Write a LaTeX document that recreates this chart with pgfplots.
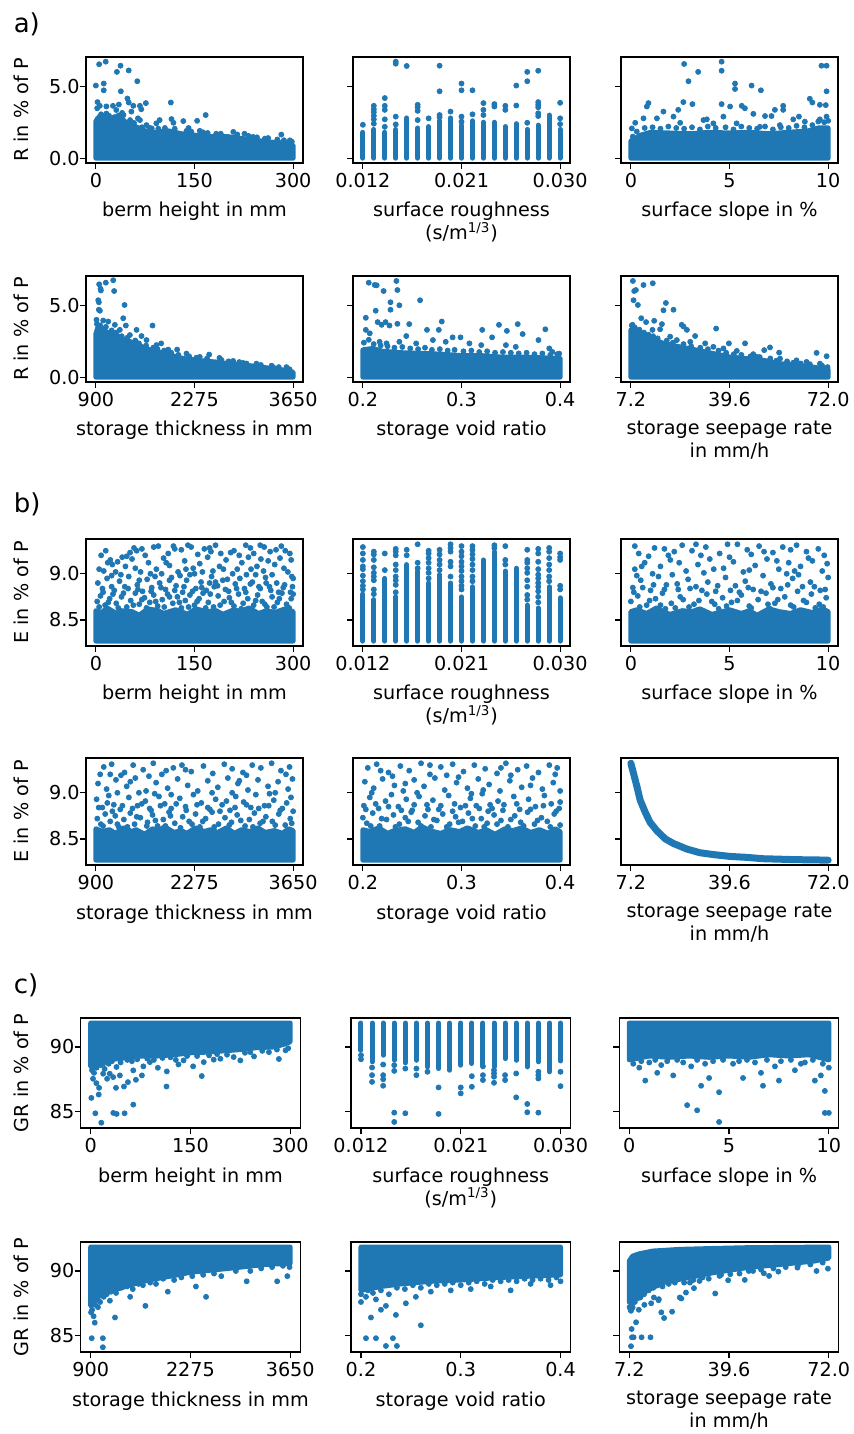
\documentclass[border=0pt]{standalone}
\usepackage{fontspec}
\setmainfont{DejaVu Sans}
\usepackage{pgfplots}
\pgfplotsset{compat=1.18}
\definecolor{tabblue}{HTML}{1F77B4}
\pgfplotsset{
  panel/.style={scale only axis, anchor=north west, width=108.5pt, height=53pt,
    tick align=outside, tick pos=left, major tick length=3pt,
    axis line style={line width=0.6pt}, tick style={line width=0.6pt, black},
    xticklabel style={inner sep=0pt, anchor=north, yshift=-2pt},
    yticklabel style={inner sep=0pt, anchor=east},
    xlabel style={at={(axis description cs:0.5,0)}, anchor=north, yshift=-19.5pt, inner sep=0pt, align=center},
    ylabel style={at={(axis description cs:-0.30,0.5)}, anchor=center, inner sep=0pt},
    scaled x ticks=false, scaled y ticks=false,
    unbounded coords=jump, clip=true},
  cpanel/.style={panel, width=109.75pt, height=55pt, ylabel style={at={(axis description cs:-0.272,0.5)}}},
  bpanel/.style={panel, height=53.5pt},
  dots/.style={only marks, mark=*, mark size=1.25pt, color=tabblue},
  dense/.style={fill=tabblue, draw=tabblue, line width=2.5pt, line join=round},
  cols/.style={draw=tabblue, line width=2.5pt, line cap=round},
  Rax/.style={ymin=-0.335, ymax=7.035, ytick={0,5}, yticklabels={0.0,5.0}},
  Eax/.style={ymin=8.217, ymax=9.377, ytick={8.5,9.0}, yticklabels={8.5,9.0}},
  Gax/.style={ymin=83.73, ymax=92.24, ytick={85,90}, yticklabels={85,90}},
  noy/.style={yticklabels={}},
  berm/.style={xmin=-15, xmax=315, xtick={0,150,300}, xticklabels={0,150,300}, xlabel={berm height in mm}},
  rough/.style={xmin=0.0111, xmax=0.0309, xtick={0.012,0.021,0.030}, xticklabels={0.012,0.021,0.030}, xlabel={surface roughness\\(s/m\textsuperscript{1/3})}},
  slope/.style={xmin=-0.5, xmax=10.5, xtick={0,5,10}, xticklabels={0,5,10}, xlabel={surface slope in \%}},
  thick/.style={xmin=762.5, xmax=3787.5, xtick={900,2275,3650}, xticklabels={900,2275,3650}, xlabel={storage thickness in mm}},
  void/.style={xmin=0.19, xmax=0.41, xtick={0.2,0.3,0.4}, xticklabels={0.2,0.3,0.4}, xlabel={storage void ratio}},
  seep/.style={xmin=3.96, xmax=75.24, xtick={7.2,39.6,72}, xticklabels={7.2,39.6,72.0}, xlabel={storage seepage rate\\in mm/h}},
}
\begin{document}
\begin{tikzpicture}[font=\fontsize{9.6}{11.5}\selectfont]
\useasboundingbox (0,0) rectangle (426.5pt,-717pt);
\node[anchor=base west, inner sep=0pt, font=\fontsize{13}{15}\selectfont] at (6.7pt,-16.3pt) {a)};
\node[anchor=base west, inner sep=0pt, font=\fontsize{13}{15}\selectfont] at (6.7pt,-256.3pt) {b)};
\node[anchor=base west, inner sep=0pt, font=\fontsize{13}{15}\selectfont] at (6.7pt,-496.7pt) {c)};

% ================= a) R =================
\begin{axis}[panel, Rax, berm, at={(43pt,-28.5pt)}, ylabel={R in \% of P}]
\addplot[dense] coordinates {(0,0) (0,2.6) (10,2.9) (25,2.7) (35,3.0) (45,2.5) (60,2.2) (75,1.9) (90,1.8) (110,1.9) (130,1.7) (150,1.6) (175,1.5) (200,1.5) (225,1.35) (250,1.2) (270,1.1) (290,1.05) (300,0.9) (300,0)} --cycle;
\addplot[dots] coordinates {(0,5.05) (5,6.53) (15,6.71) (12,5.19) (12,4.72) (32,6.0) (37.5,6.43) (38,4.65) (50,6.1) (63,5.35) (48,4.15) (2.5,3.9) (2,3.47) (6,3.64) (16,3.6) (26,3.64) (35,3.73) (50,3.87) (57,3.64) (67,3.64) (76,3.83) (69,3.4) (114,3.87) (115,2.72) (118,2.46) (133,2.58) (154,2.6) (167,3.0) (141,2.1) (158,1.9) (183,1.7) (209,1.83) (226,1.7) (239,1.48) (257,1.36) (282,1.64) (295,1.24) (54,3.24) (42,3.0) (67,2.65) (77,2.3) (92,2.42) (97,2.65) (6,2.9) (16,3.1) (31,3.35) (64,2.77) (85,2.07) (102,1.83)};
\addplot[dots] coordinates {(3,2.75) (8,3.05) (20,2.95) (28,2.85) (40,3.15) (52,2.65) (58,2.45) (70,2.15) (82,2.1) (95,2.05) (105,2.1) (120,2.05) (138,1.9) (145,1.85) (163,1.8) (170,1.75) (190,1.7) (215,1.65) (232,1.55) (245,1.45) (262,1.4) (276,1.3) (286,1.25) (298,1.15)};
\end{axis}

\begin{axis}[panel, Rax, noy, rough, at={(176.5pt,-28.5pt)}]
\addplot[cols, ycomb] coordinates {(0.012,1.8) (0.013,2.0) (0.014,1.8) (0.015,2.0) (0.016,2.8) (0.017,2.1) (0.018,2.2) (0.019,2.6) (0.020,2.8) (0.021,2.3) (0.022,2.6) (0.023,2.5) (0.024,2.5) (0.025,2.2) (0.026,2.4) (0.027,2.0) (0.028,2.3) (0.029,3.0) (0.030,2.0)};
\addplot[dots] coordinates {(0.012,2.32) (0.013,2.4) (0.013,2.7) (0.013,2.95) (0.013,3.2) (0.013,3.4) (0.013,3.64) (0.014,4.18) (0.014,3.64) (0.014,3.36) (0.014,2.7) (0.014,2.18) (0.015,6.71) (0.015,6.57) (0.015,2.89) (0.015,2.35) (0.016,6.41) (0.017,3.71) (0.017,3.54) (0.017,3.29) (0.017,2.65) (0.018,2.77) (0.019,6.43) (0.019,4.65) (0.019,3.0) (0.019,2.84) (0.020,3.24) (0.021,5.19) (0.021,4.72) (0.021,2.89) (0.021,2.54) (0.022,4.72) (0.022,3.05) (0.023,3.83) (0.023,3.36) (0.023,3.0) (0.024,3.76) (0.024,3.59) (0.025,3.64) (0.025,3.36) (0.026,5.05) (0.026,3.66) (0.027,6.0) (0.027,5.35) (0.027,2.46) (0.028,6.08) (0.028,3.9) (0.028,3.71) (0.028,3.54) (0.028,3.12) (0.028,2.93) (0.030,3.85) (0.030,2.77) (0.030,2.37)};
\end{axis}

\begin{axis}[panel, Rax, noy, slope, at={(310.5pt,-28.5pt)}]
\addplot[dense] coordinates {(0,0) (0,1.2) (0.5,1.6) (1,1.8) (2,1.75) (3,1.7) (4,1.8) (5,1.75) (6,1.8) (7,1.7) (8,1.8) (9,1.9) (9.5,2.1) (10,2.1) (10,0)} --cycle;
\addplot[dots] coordinates {(2.7,6.55) (2.92,5.35) (3.41,6.0) (4.6,6.71) (4.6,6.08) (4.6,3.76) (5.28,5.19) (5.28,4.81) (6.12,5.05) (6.59,4.72) (9.66,6.43) (9.92,6.43) (9.92,4.65) (9.07,4.13) (9.2,3.87) (9.58,3.71) (9.88,3.69) (9.92,2.89) (2.66,3.9) (3.12,3.76) (0.89,3.83) (0.81,3.59) (0.64,2.77) (0.22,2.46) (0.05,2.07) (1.65,3.24) (2.4,3.36) (2.16,2.89) (3.68,2.65) (3.85,2.7) (4.69,2.89) (5.03,3.59) (5.62,3.64) (5.78,3.47) (6.21,3.08) (6.8,2.93) (7.13,2.93) (7.72,3.64) (7.72,3.36) (7.3,3.36) (8.52,2.89) (8.23,2.7) (9.58,2.7) (1.32,2.77) (2.5,2.46) (4.18,2.42) (5.36,2.42) (6.54,2.18) (7.55,2.3) (8.82,2.54)};
\addplot[dots] coordinates {(0.1,1.5) (0.3,1.85) (0.7,2.1) (1.1,2.15) (1.5,2.05) (1.9,2.2) (2.3,2.1) (2.7,2.05) (3.1,2.15) (3.5,2.0) (3.9,2.2) (4.3,2.1) (4.8,2.15) (5.2,2.0) (5.6,2.2) (6.0,2.1) (6.4,2.05) (6.8,2.2) (7.2,2.0) (7.6,2.15) (8.0,2.1) (8.4,2.25) (8.8,2.15) (9.2,2.3) (9.5,2.55) (9.8,2.5) (10,2.6)};
\end{axis}

\begin{axis}[panel, Rax, thick, at={(43pt,-138pt)}, ylabel={R in \% of P}]
\addplot[dense] coordinates {(900,0) (900,3.0) (930,3.5) (1000,3.3) (1100,3.0) (1200,2.9) (1300,2.6) (1420,2.4) (1550,2.1) (1652,1.9) (1800,1.7) (1885,1.6) (2117,1.3) (2349,1.15) (2581,1.05) (2814,0.9) (3046,0.8) (3278,0.65) (3511,0.5) (3650,0.35) (3650,0)} --cycle;
\addplot[dots] coordinates {(946,6.46) (965,6.15) (970,6.03) (1039,6.57) (1142,6.74) (1155,5.99) (933,5.35) (942,5.21) (942,4.69) (956,4.62) (1300,5.02) (1281,4.1) (1318,3.59) (1165,3.64) (1467,3.29) (1690,3.59) (1536,2.86) (1810,2.35) (2033,1.92) (2479,1.57) (2623,1.34) (2953,0.99) (3371,0.7) (909,3.99) (1002,3.94) (1072,3.87) (956,3.4) (1234,3.29) (1374,2.93) (1606,2.58) (1745,2.23) (1908,1.92) (2163,1.64) (2349,1.41) (2814,1.13) (3139,0.94) (3557,0.7)};
\addplot[dots] coordinates {(915,3.7) (960,3.6) (1040,3.5) (1120,3.25) (1180,3.1) (1260,2.85) (1340,2.75) (1450,2.55) (1500,2.35) (1600,2.2) (1700,2.05) (1760,1.95) (1850,1.85) (1950,1.7) (2050,1.55) (2200,1.45) (2300,1.35) (2450,1.3) (2650,1.2) (2750,1.1) (2900,1.05) (3000,0.95) (3200,0.85) (3350,0.8) (3450,0.7) (3600,0.55)};
\end{axis}

\begin{axis}[panel, Rax, noy, void, at={(176.5pt,-138pt)}]
\addplot[dense] coordinates {(0.2,0) (0.2,1.9) (0.21,2.0) (0.22,1.8) (0.24,1.7) (0.26,1.65) (0.28,1.6) (0.3,1.5) (0.32,1.5) (0.34,1.4) (0.36,1.4) (0.38,1.35) (0.4,1.3) (0.4,0)} --cycle;
\addplot[dots] coordinates {(0.206,6.57) (0.212,6.41) (0.214,6.39) (0.221,5.99) (0.234,6.69) (0.235,6.06) (0.228,5.21) (0.228,4.69) (0.237,5.0) (0.213,4.62) (0.258,5.35) (0.203,4.13) (0.215,3.83) (0.223,3.83) (0.219,3.64) (0.227,3.59) (0.235,3.71) (0.247,3.69) (0.28,3.87) (0.265,3.29) (0.277,3.29) (0.321,3.29) (0.338,3.64) (0.346,3.22) (0.357,3.69) (0.362,3.0) (0.385,3.33) (0.331,2.77) (0.291,2.77) (0.299,2.77) (0.244,2.86) (0.203,3.29) (0.207,3.05) (0.217,2.46) (0.224,2.35) (0.237,2.46) (0.254,2.35) (0.271,2.58) (0.284,2.46) (0.308,2.35) (0.32,2.23) (0.345,2.23) (0.355,2.11) (0.378,2.58) (0.389,2.0) (0.399,1.64) (0.392,1.76)};
\addplot[dots] coordinates {(0.201,2.4) (0.206,2.6) (0.211,2.3) (0.218,2.2) (0.225,2.15) (0.232,2.05) (0.24,2.1) (0.248,2.0) (0.256,1.95) (0.263,2.05) (0.27,1.9) (0.278,1.95) (0.286,1.85) (0.293,1.9) (0.302,1.8) (0.31,1.85) (0.318,1.75) (0.326,1.8) (0.334,1.7) (0.342,1.75) (0.35,1.7) (0.358,1.65) (0.366,1.7) (0.374,1.6) (0.382,1.65) (0.39,1.55) (0.397,1.6)};
\end{axis}

\begin{axis}[panel, Rax, noy, seep, at={(310.5pt,-138pt)}]
\addplot[dense] coordinates {(7.2,0) (7.2,3.29) (9.4,3.2) (12.4,2.8) (17.9,2.35) (23.4,2.1) (28.8,1.88) (34.3,1.64) (39.8,1.4) (45.2,1.29) (50.7,1.17) (56.2,0.94) (61.6,0.82) (67.1,0.7) (72,0.52) (72,0)} --cycle;
\addplot[dots] coordinates {(7.86,6.69) (8.3,5.99) (8.84,6.06) (11.35,6.41) (14.4,6.53) (8.07,5.35) (9.5,5.02) (18.7,5.16) (17.9,4.65) (21.2,4.69) (10.6,4.1) (7.75,3.64) (12.2,3.83) (14.85,3.92) (17.4,3.69) (16.8,3.33) (14.3,3.29) (23.9,3.64) (24.5,3.52) (25.6,3.29) (28.3,2.86) (35.2,3.38) (39.4,2.35) (44.7,2.35) (51.0,1.88) (52.9,2.07) (55.9,1.71) (68.2,1.69) (71.5,1.46) (20.1,2.82) (22.3,2.58) (26.7,2.46) (31.6,2.35) (34.3,2.11) (37.6,2.0) (42,1.83) (47.4,1.6) (48.5,1.41) (56.2,1.29) (61.6,1.17) (64.9,1.06) (69.3,0.94)};
\addplot[dots] coordinates {(7.5,3.6) (8.5,3.45) (10,3.3) (11.5,3.1) (13,2.95) (14.5,2.85) (16,2.7) (19,2.55) (21,2.4) (24.5,2.3) (27,2.15) (30,2.05) (32.5,1.95) (36,1.85) (38.5,1.7) (41,1.6) (43.5,1.55) (46.5,1.45) (49.5,1.4) (53,1.3) (55,1.15) (58.5,1.1) (60.5,1.0) (63,0.95) (66,0.9) (70,0.8) (71.8,0.7)};
\end{axis}

% ================= b) E =================
\begin{axis}[bpanel, Eax, berm, at={(43pt,-269.5pt)}, ylabel={E in \% of P}]
\addplot[dense] coordinates {(0,8.27) (0,8.6) (9,8.58) (17,8.63) (31,8.57) (38,8.6) (55,8.59) (66,8.55) (79,8.62) (95,8.6) (103,8.57) (121,8.61) (133,8.58) (139,8.56) (152,8.62) (168,8.59) (183,8.6) (193,8.56) (210,8.61) (219,8.59) (233,8.63) (247,8.57) (260,8.6) (272,8.58) (288,8.62) (300,8.59) (300,8.27)} --cycle;
\addplot[dots] coordinates {(8,9.2) (22,9.15) (58,9.28) (62,9.25) (88,9.29) (95,9.3) (120,9.27) (130,9.26) (140,9.31) (145,9.29) (165,9.27) (173,9.28) (182,9.31) (210,9.25) (228,9.31) (235,9.28) (250,9.31) (256,9.29) (282,9.3) (288,9.25) (295,9.22) (205,9.23) (110,9.22) (40,9.18) (75,9.2) (155,9.21) (190,9.22) (265,9.24) (240,9.22) (52,9.23)
(5,9.05) (12,9.03) (25,9.1) (33,9.13) (45,9.08) (55,9.16) (68,9.02) (80,9.12) (92,9.05) (103,9.17) (112,9.09) (125,9.02) (135,9.14) (148,9.06) (158,9.11) (170,9.18) (178,9.03) (188,9.08) (198,9.15) (215,9.05) (222,9.12) (232,9.18) (245,9.08) (255,9.03) (262,9.14) (272,9.1) (280,9.17) (292,9.02) (298,8.97) (150,9.0) (60,9.06) (100,9.0) (208,9.0) (268,8.99) (18,9.12)
(3,8.9) (10,8.84) (17,8.95) (28,8.82) (36,8.92) (44,8.86) (50,8.97) (63,8.88) (71,8.81) (78,8.94) (85,8.85) (97,8.9) (106,8.83) (115,8.96) (122,8.87) (132,8.8) (138,8.93) (152,8.84) (160,8.91) (168,8.82) (176,8.97) (185,8.87) (193,8.93) (202,8.81) (212,8.89) (219,8.95) (226,8.84) (238,8.91) (248,8.86) (258,8.96) (266,8.82) (275,8.9) (285,8.85) (296,8.8) (300,8.95) (38,8.99) (128,8.98) (243,8.99) (180,8.86) (90,8.97)
(2,8.7) (7,8.76) (14,8.66) (21,8.73) (26,8.78) (31,8.68) (39,8.75) (47,8.64) (53,8.71) (60,8.79) (66,8.67) (74,8.74) (82,8.69) (88,8.77) (94,8.65) (101,8.72) (109,8.78) (117,8.68) (124,8.75) (130,8.63) (136,8.71) (143,8.77) (150,8.66) (157,8.73) (163,8.79) (171,8.69) (179,8.64) (186,8.76) (195,8.7) (203,8.74) (210,8.65) (217,8.78) (224,8.68) (231,8.73) (240,8.66) (246,8.77) (253,8.7) (260,8.64) (268,8.75) (276,8.69) (283,8.79) (290,8.67) (297,8.73) (300,8.78) (278,8.8)};
\addplot[dots] coordinates {(5,8.64) (11,8.8) (19,8.69) (24,8.86) (34,8.63) (42,8.79) (49,8.84) (57,8.66) (64,8.83) (70,8.72) (77,8.63) (84,8.81) (91,8.7) (99,8.85) (104,8.64) (112,8.75) (120,8.82) (127,8.69) (134,8.86) (141,8.64) (147,8.81) (154,8.7) (161,8.85) (167,8.63) (174,8.78) (182,8.91) (189,8.66) (197,8.83) (206,8.69) (214,8.84) (221,8.62) (228,8.8) (235,8.89) (243,8.71) (250,8.84) (257,8.67) (264,8.86) (271,8.64) (279,8.73) (287,8.88) (294,8.63) (299,8.86) (15,9.25) (30,9.02) (47,9.19) (70,9.27) (83,9.0) (107,9.12) (118,9.3) (137,9.05) (162,9.02) (175,9.24) (194,9.05) (218,9.2) (236,9.05) (251,9.16) (274,9.26) (286,9.06) (297,9.15) (66,8.93) (143,8.99) (200,8.94) (229,8.99) (259,8.9) (24,8.98) (112,8.93) (173,8.9)};
\end{axis}

\begin{axis}[bpanel, Eax, noy, rough, at={(176.5pt,-269.5pt)}]
\addplot[cols] coordinates {(0.012,8.27) (0.012,8.78) (0.012,nan) (0.013,8.27) (0.013,8.72) (0.013,nan) (0.014,8.27) (0.014,8.95) (0.014,nan) (0.015,8.27) (0.015,8.75) (0.015,nan) (0.016,8.27) (0.016,9.1) (0.016,nan) (0.017,8.27) (0.017,9.03) (0.017,nan) (0.018,8.27) (0.018,8.9) (0.018,nan) (0.019,8.27) (0.019,8.99) (0.019,nan) (0.020,8.27) (0.020,8.9) (0.020,nan) (0.021,8.27) (0.021,8.75) (0.021,nan) (0.022,8.27) (0.022,8.86) (0.022,nan) (0.023,8.27) (0.023,9.15) (0.023,nan) (0.024,8.27) (0.024,9.24) (0.024,nan) (0.025,8.27) (0.025,9.03) (0.025,nan) (0.026,8.27) (0.026,9.06) (0.026,nan) (0.027,8.27) (0.027,8.66) (0.027,nan) (0.028,8.27) (0.028,8.63) (0.028,nan) (0.029,8.27) (0.029,8.86) (0.029,nan) (0.030,8.27) (0.030,8.74)};
\addplot[dots] coordinates {(0.012,9.29) (0.012,9.22) (0.012,9.15) (0.012,9.08) (0.012,9.05) (0.012,8.98) (0.012,8.92) (0.012,8.87) (0.012,8.83) (0.013,9.24) (0.013,9.21) (0.013,9.15) (0.013,9.07) (0.013,9.01) (0.013,8.97) (0.013,8.93) (0.013,8.83) (0.013,8.78) (0.014,9.22) (0.014,9.04) (0.015,9.27) (0.015,9.24) (0.015,9.2) (0.015,9.1) (0.015,9.04) (0.015,8.97) (0.015,8.93) (0.015,8.88) (0.015,8.8) (0.016,9.26) (0.016,9.2) (0.017,9.32) (0.017,9.12) (0.017,9.06) (0.018,9.25) (0.018,9.22) (0.018,9.17) (0.018,9.12) (0.018,9.06) (0.018,9.01) (0.018,8.95) (0.019,9.26) (0.019,9.21) (0.019,9.15) (0.019,9.1) (0.019,9.04) (0.020,9.32) (0.020,9.28) (0.020,9.24) (0.020,9.13) (0.020,9.08) (0.020,8.97) (0.021,9.3) (0.021,9.24) (0.021,9.19) (0.021,9.13) (0.021,9.08) (0.021,9.03) (0.021,8.97) (0.021,8.92) (0.021,8.87) (0.021,8.83) (0.022,9.3) (0.022,9.26) (0.022,9.21) (0.022,9.16) (0.022,9.1) (0.022,9.04) (0.022,8.97) (0.022,8.92) (0.024,9.31) (0.024,9.28) (0.025,9.3) (0.025,9.15) (0.025,9.1) (0.027,9.26) (0.027,9.15) (0.027,9.12) (0.027,9.06) (0.027,9.01) (0.027,8.93) (0.027,8.86) (0.027,8.77) (0.027,8.72) (0.028,9.27) (0.028,9.22) (0.028,9.13) (0.028,9.05) (0.028,8.99) (0.028,8.95) (0.028,8.9) (0.028,8.86) (0.028,8.81) (0.028,8.75) (0.028,8.69) (0.029,9.28) (0.029,9.24) (0.029,9.17) (0.029,9.1) (0.029,9.04) (0.029,8.97) (0.029,8.92) (0.030,9.22) (0.030,9.18) (0.030,9.15) (0.030,8.87) (0.030,8.83)};
\end{axis}

\begin{axis}[bpanel, Eax, noy, slope, at={(310.5pt,-269.5pt)}]
\addplot[dense] coordinates {(0,8.27) (0,8.59) (0.3,8.61) (0.8,8.57) (1.3,8.63) (1.7,8.58) (2.0,8.56) (2.6,8.6) (3.1,8.59) (3.5,8.62) (4.1,8.56) (4.5,8.58) (5.0,8.61) (5.6,8.57) (6.0,8.6) (6.4,8.55) (7.0,8.62) (7.5,8.59) (8.1,8.57) (8.6,8.61) (9.2,8.58) (9.7,8.62) (10,8.59) (10,8.27)} --cycle;
\addplot[dots] coordinates {(0.4,9.22) (1.2,9.28) (1.9,9.2) (2.6,9.31) (3.1,9.25) (3.8,9.29) (4.5,9.22) (4.9,9.32) (5.4,9.32) (5.9,9.26) (6.5,9.3) (7.2,9.23) (7.7,9.29) (8.4,9.31) (8.9,9.24) (9.5,9.27) (2.2,9.24) (6.1,9.21) (0.9,9.19) (9.8,9.2)
(0.2,9.05) (0.7,9.12) (1.5,9.08) (2.0,9.15) (2.8,9.03) (3.4,9.1) (4.0,9.16) (4.7,9.06) (5.2,9.13) (5.7,9.02) (6.3,9.09) (6.9,9.16) (7.5,9.05) (8.0,9.12) (8.6,9.08) (9.2,9.14) (9.7,9.03) (3.7,9.01) (1.1,9.0) (7.9,9.0)
(0.1,8.85) (0.5,8.93) (1.0,8.82) (1.4,8.97) (1.8,8.88) (2.4,8.83) (2.9,8.94) (3.3,8.86) (3.9,8.91) (4.3,8.81) (4.8,8.96) (5.3,8.87) (5.8,8.92) (6.2,8.83) (6.7,8.98) (7.1,8.89) (7.6,8.84) (8.2,8.95) (8.7,8.86) (9.1,8.91) (9.6,8.82) (10.0,8.96) (2.1,8.99) (5.5,8.8) (8.5,8.99) (0.3,8.98)
(0.0,8.7) (0.35,8.76) (0.8,8.66) (1.25,8.73) (1.6,8.79) (2.05,8.68) (2.5,8.75) (2.95,8.64) (3.45,8.71) (3.85,8.78) (4.25,8.67) (4.65,8.74) (5.1,8.69) (5.6,8.77) (6.0,8.65) (6.45,8.72) (6.85,8.79) (7.3,8.68) (7.8,8.75) (8.25,8.64) (8.75,8.71) (9.15,8.78) (9.55,8.67) (9.9,8.74) (1.75,8.62) (4.45,8.62) (7.05,8.62) (9.35,8.63)};
\addplot[dots] coordinates {(0.15,8.8) (0.45,8.64) (0.6,8.85) (0.95,8.71) (1.15,8.88) (1.5,8.66) (1.7,8.83) (2.25,8.63) (2.35,8.89) (2.65,8.72) (3.0,8.84) (3.2,8.67) (3.6,8.82) (4.1,8.7) (4.4,8.87) (4.85,8.65) (5.05,8.82) (5.4,8.71) (5.95,8.85) (6.1,8.63) (6.6,8.81) (6.95,8.67) (7.2,8.85) (7.45,8.72) (7.95,8.88) (8.1,8.66) (8.45,8.81) (8.9,8.69) (9.3,8.86) (9.75,8.64) (9.85,8.83) (0.55,9.08) (1.7,9.27) (2.45,9.12) (3.55,9.2) (4.2,9.05) (5.0,9.18) (6.0,9.04) (6.75,9.24) (7.4,9.14) (8.3,9.03) (9.0,9.17) (9.95,9.11) (0.2,9.3) (3.3,9.32) (8.1,9.26)};
\end{axis}

\begin{axis}[bpanel, Eax, thick, at={(43pt,-379pt)}, ylabel={E in \% of P}]
\addplot[dense] coordinates {(900,8.27) (900,8.61) (990,8.58) (1090,8.6) (1170,8.56) (1290,8.62) (1400,8.58) (1460,8.6) (1580,8.55) (1690,8.61) (1770,8.59) (1860,8.63) (1990,8.57) (2090,8.59) (2170,8.56) (2290,8.62) (2410,8.58) (2500,8.6) (2600,8.57) (2720,8.62) (2830,8.56) (2930,8.6) (3050,8.58) (3160,8.62) (3260,8.57) (3390,8.59) (3500,8.56) (3590,8.61) (3650,8.59) (3650,8.27)} --cycle;
\addplot[dots] coordinates {(1010,9.28) (1120,9.31) (1300,9.22) (1420,9.3) (1560,9.25) (1700,9.32) (1820,9.2) (1980,9.27) (2100,9.3) (2230,9.23) (2400,9.29) (2530,9.21) (2690,9.31) (2800,9.26) (2950,9.22) (3080,9.3) (3200,9.27) (3350,9.32) (3480,9.24) (3600,9.28) (960,9.2) (1880,9.24) (3000,9.19) (1250,9.19)
(930,9.1) (1050,9.04) (1180,9.14) (1330,9.07) (1450,9.16) (1600,9.02) (1740,9.11) (1900,9.05) (2040,9.15) (2180,9.08) (2320,9.02) (2460,9.13) (2600,9.06) (2740,9.16) (2880,9.1) (3020,9.03) (3160,9.14) (3300,9.07) (3440,9.12) (3580,9.04) (3640,9.15) (1500,9.0) (2800,9.0)
(910,8.93) (990,8.84) (1080,8.97) (1150,8.87) (1240,8.82) (1360,8.95) (1480,8.86) (1590,8.91) (1670,8.81) (1780,8.96) (1860,8.88) (1950,8.83) (2070,8.94) (2150,8.85) (2260,8.98) (2370,8.89) (2490,8.82) (2570,8.93) (2660,8.87) (2770,8.81) (2850,8.96) (2960,8.9) (3060,8.84) (3130,8.98) (3250,8.86) (3380,8.92) (3500,8.83) (3620,8.95) (1720,8.99) (3320,8.99)
(920,8.72) (970,8.66) (1030,8.77) (1100,8.69) (1170,8.75) (1220,8.63) (1290,8.71) (1380,8.78) (1440,8.66) (1520,8.73) (1620,8.68) (1690,8.76) (1760,8.64) (1840,8.71) (1920,8.79) (2000,8.67) (2110,8.74) (2200,8.69) (2290,8.77) (2350,8.63) (2430,8.72) (2520,8.79) (2610,8.66) (2700,8.73) (2790,8.68) (2870,8.76) (2980,8.64) (3040,8.71) (3110,8.78) (3190,8.67) (3270,8.74) (3360,8.69) (3450,8.77) (3540,8.65) (3610,8.72) (3650,8.8)};
\addplot[dots] coordinates {(940,8.84) (1000,8.64) (1060,8.89) (1130,8.8) (1200,8.66) (1270,8.86) (1340,8.63) (1410,8.83) (1470,8.74) (1540,8.88) (1610,8.64) (1650,8.83) (1730,8.7) (1800,8.86) (1870,8.64) (1940,8.75) (2020,8.88) (2080,8.62) (2160,8.81) (2240,8.66) (2310,8.87) (2390,8.69) (2460,8.84) (2550,8.63) (2630,8.8) (2720,8.91) (2760,8.65) (2840,8.84) (2920,8.7) (3000,8.87) (3090,8.63) (3170,8.83) (3230,8.69) (3310,8.86) (3400,8.65) (3470,8.81) (3560,8.89) (3630,8.67) (1100,9.2) (1380,9.12) (1640,9.18) (2150,9.25) (2520,9.0) (2900,9.13) (3400,9.0) (3550,9.2) (1950,8.98) (1200,9.0)};
\end{axis}

\begin{axis}[bpanel, Eax, noy, void, at={(176.5pt,-379pt)}]
\addplot[dense] coordinates {(0.2,8.27) (0.2,8.6) (0.207,8.58) (0.216,8.62) (0.225,8.56) (0.232,8.59) (0.243,8.61) (0.252,8.57) (0.26,8.63) (0.271,8.58) (0.279,8.56) (0.288,8.6) (0.298,8.58) (0.306,8.62) (0.317,8.57) (0.325,8.6) (0.334,8.55) (0.344,8.61) (0.352,8.59) (0.361,8.62) (0.37,8.57) (0.379,8.6) (0.388,8.56) (0.395,8.61) (0.4,8.58) (0.4,8.27)} --cycle;
\addplot[dots] coordinates {(0.205,9.27) (0.214,9.31) (0.226,9.22) (0.238,9.29) (0.247,9.24) (0.259,9.32) (0.268,9.2) (0.279,9.28) (0.291,9.31) (0.302,9.23) (0.313,9.3) (0.324,9.26) (0.336,9.21) (0.345,9.32) (0.357,9.25) (0.366,9.29) (0.378,9.22) (0.389,9.3) (0.397,9.27) (0.23,9.18) (0.35,9.19) (0.285,9.19)
(0.202,9.12) (0.211,9.05) (0.22,9.15) (0.232,9.08) (0.241,9.02) (0.252,9.14) (0.262,9.07) (0.273,9.16) (0.283,9.03) (0.295,9.11) (0.306,9.05) (0.317,9.15) (0.328,9.09) (0.339,9.02) (0.349,9.13) (0.361,9.06) (0.372,9.16) (0.382,9.04) (0.393,9.11) (0.4,9.02) (0.255,9.0)
(0.201,8.86) (0.207,8.95) (0.216,8.83) (0.223,8.91) (0.229,8.98) (0.236,8.85) (0.244,8.93) (0.25,8.81) (0.257,8.96) (0.265,8.87) (0.271,8.92) (0.277,8.82) (0.287,8.97) (0.293,8.88) (0.299,8.84) (0.309,8.94) (0.315,8.86) (0.321,8.99) (0.331,8.83) (0.337,8.91) (0.343,8.87) (0.353,8.96) (0.359,8.82) (0.368,8.93) (0.375,8.85) (0.384,8.97) (0.391,8.88) (0.399,8.83) (0.327,8.8)
(0.2,8.73) (0.204,8.67) (0.21,8.78) (0.217,8.64) (0.224,8.71) (0.231,8.76) (0.237,8.66) (0.243,8.73) (0.249,8.79) (0.256,8.68) (0.263,8.75) (0.269,8.63) (0.275,8.7) (0.281,8.77) (0.288,8.66) (0.294,8.74) (0.301,8.69) (0.307,8.78) (0.314,8.64) (0.32,8.72) (0.326,8.67) (0.333,8.76) (0.34,8.7) (0.347,8.63) (0.354,8.75) (0.36,8.68) (0.367,8.79) (0.374,8.66) (0.381,8.73) (0.387,8.69) (0.394,8.77) (0.4,8.65)};
\addplot[dots] coordinates {(0.203,8.82) (0.208,8.64) (0.213,8.88) (0.219,8.72) (0.226,8.85) (0.233,8.63) (0.239,8.81) (0.246,8.69) (0.252,8.87) (0.259,8.64) (0.266,8.82) (0.272,8.71) (0.279,8.86) (0.285,8.63) (0.291,8.8) (0.297,8.68) (0.304,8.86) (0.311,8.72) (0.318,8.83) (0.323,8.63) (0.329,8.87) (0.336,8.66) (0.342,8.81) (0.35,8.71) (0.356,8.88) (0.363,8.64) (0.37,8.82) (0.377,8.7) (0.383,8.86) (0.39,8.63) (0.396,8.8) (0.4,8.9) (0.218,9.24) (0.243,9.1) (0.268,9.3) (0.297,9.17) (0.322,9.03) (0.34,9.27) (0.37,9.08) (0.395,9.2) (0.209,9.0) (0.31,8.99)};
\end{axis}

\begin{axis}[bpanel, Eax, noy, seep, at={(310.5pt,-379pt)}]
\addplot[draw=tabblue, line width=3.5pt, line join=round, line cap=round] coordinates {(7.2,9.32) (8.07,9.21) (9.17,9.07) (10.26,8.92) (11.9,8.79) (13.5,8.68) (15.7,8.59) (18.5,8.5) (21.2,8.45) (25.6,8.39) (29.9,8.35) (34.3,8.33) (39.8,8.31) (45.2,8.3) (50.7,8.285) (56.2,8.28) (61.6,8.275) (72,8.27)};
\end{axis}

% ================= c) GR =================
\begin{axis}[cpanel, Gax, berm, at={(40.35pt,-509pt)}, ylabel={GR in \% of P}]
\addplot[dense] coordinates {(0,91.85) (300,91.85) (300,90.4) (290,90.2) (275,90.0) (250,89.95) (225,89.8) (200,89.7) (175,89.6) (150,89.55) (125,89.4) (100,89.3) (75,89.3) (50,89.15) (25,89.0) (10,88.7) (0,88.5)} --cycle;
\addplot[dots] coordinates {(1,86.06) (7,84.87) (16,84.14) (34,84.9) (39,84.82) (51,84.87) (64,85.54) (38,86.84) (50,86.94) (56,87.28) (68,87.46) (77,87.8) (114,86.94) (167,87.75) (3.5,87.54) (8.6,87.2) (12.6,86.84) (12.1,86.32) (18.7,87.93) (28.7,87.93) (24.7,87.54) (33.8,87.67) (43.9,87.8) (3.5,88.39) (18.7,88.7) (38.8,88.45) (64,88.19) (79.2,88.5) (101,88.39) (114.5,88.11) (132,88.65) (154,88.5) (170,88.83) (185,89.02) (215,89.22) (245.6,89.27) (283,89.07) (293,89.74) (225,88.96) (195,89.09) (139.7,88.96) (89,88.83)};
\addplot[dots] coordinates {(2,88.2) (5,88.0) (9,88.4) (15,88.6) (21,88.3) (27,88.7) (32,88.9) (45,88.8) (55,89.0) (62,88.9) (70,89.05) (85,89.1) (95,89.0) (108,89.15) (120,89.2) (128,89.0) (145,89.3) (160,89.3) (178,89.35) (190,89.45) (205,89.4) (232,89.55) (240,89.6) (258,89.7) (268,89.6) (280,89.8) (297,89.9)};
\end{axis}

\begin{axis}[cpanel, Gax, noy, rough, at={(175.5pt,-509pt)}]
\addplot[cols] coordinates {(0.012,91.85) (0.012,89.74) (0.012,nan) (0.013,91.85) (0.013,88.85) (0.013,nan) (0.014,91.85) (0.014,89.36) (0.014,nan) (0.015,91.85) (0.015,88.97) (0.015,nan) (0.016,91.85) (0.016,88.77) (0.016,nan) (0.017,91.85) (0.017,88.97) (0.017,nan) (0.018,91.85) (0.018,88.46) (0.018,nan) (0.019,91.85) (0.019,88.33) (0.019,nan) (0.020,91.85) (0.020,88.2) (0.020,nan) (0.021,91.85) (0.021,88.59) (0.021,nan) (0.022,91.85) (0.022,88.72) (0.022,nan) (0.023,91.85) (0.023,88.59) (0.023,nan) (0.024,91.85) (0.024,88.46) (0.024,nan) (0.025,91.85) (0.025,89.1) (0.025,nan) (0.026,91.85) (0.026,88.97) (0.026,nan) (0.027,91.85) (0.027,88.46) (0.027,nan) (0.028,91.85) (0.028,88.85) (0.028,nan) (0.029,91.85) (0.029,88.08) (0.029,nan) (0.030,91.85) (0.030,88.92)};
\addplot[dots] coordinates {(0.012,89.36) (0.012,89.05) (0.013,88.41) (0.013,87.82) (0.013,87.3) (0.014,88.64) (0.014,87.82) (0.014,87.5) (0.014,87.0) (0.015,88.59) (0.015,88.15) (0.015,84.92) (0.015,84.2) (0.016,88.33) (0.016,84.87) (0.017,88.33) (0.017,87.82) (0.018,88.08) (0.019,86.87) (0.019,84.82) (0.021,86.87) (0.021,86.41) (0.022,87.74) (0.022,86.92) (0.023,88.5) (0.023,87.82) (0.023,87.44) (0.024,88.2) (0.024,87.95) (0.024,87.7) (0.024,87.23) (0.025,87.82) (0.025,87.44) (0.026,87.95) (0.026,86.1) (0.027,85.59) (0.027,84.95) (0.028,88.08) (0.028,87.82) (0.028,87.56) (0.028,84.92) (0.030,88.08) (0.030,86.97)};
\end{axis}

\begin{axis}[cpanel, Gax, noy, slope, at={(309.65pt,-509pt)}]
\addplot[dense] coordinates {(0,91.85) (10,91.85) (10,89.0) (9,89.4) (8,89.3) (7,89.4) (6,89.2) (5,89.3) (4,89.2) (3,89.3) (2,89.2) (1,89.3) (0,89.0)} --cycle;
\addplot[dots] coordinates {(0.8,87.4) (1.4,88.0) (2.2,87.8) (2.9,85.5) (3.4,85.1) (3.6,87.0) (4.5,84.2) (4.5,86.5) (4.0,87.6) (5.7,87.6) (6.6,88.0) (6.7,87.0) (7.5,87.4) (8.3,88.2) (9.6,87.8) (9.8,86.6) (9.8,84.9) (10,84.9) (0.5,88.4) (1.6,88.6) (3.1,88.5) (5.2,88.7) (7.3,88.5) (8.8,88.8) (9.3,87.4)};
\addplot[dots] coordinates {(0.2,88.7) (0.6,88.9) (1.0,88.8) (1.3,89.0) (1.9,88.9) (2.4,89.0) (2.7,88.8) (3.4,89.0) (3.8,88.7) (4.2,88.9) (4.7,89.0) (5.5,88.9) (5.9,89.0) (6.3,88.8) (6.9,89.0) (7.6,88.9) (8.1,89.0) (8.6,88.7) (9.2,89.0) (9.7,88.7) (10.0,88.4)};
\end{axis}

\begin{axis}[cpanel, Gax, thick, at={(40.35pt,-621pt)}, ylabel={GR in \% of P}]
\addplot[dense] coordinates {(900,91.85) (3650,91.85) (3650,90.6) (3300,90.5) (2800,90.2) (2275,89.9) (2000,89.6) (1700,89.3) (1500,89.0) (1200,88.5) (1000,88.0) (950,87.6) (900,87.3)} --cycle;
\addplot[dots] coordinates {(914,84.8) (1068,84.8) (1068,84.1) (956,86.0) (1000,87.2) (1165,87.7) (1235,86.4) (1654,87.3) (1444,88.0) (1963,88.4) (2350,88.8) (2490,88.0) (3050,89.2) (3470,89.2) (3610,89.6)};
\addplot[dots] coordinates {(905,86.8) (920,87.0) (940,86.5) (960,87.4) (985,87.8) (1030,87.6) (1080,88.0) (1120,88.2) (1180,88.4) (1250,88.3) (1320,88.7) (1400,88.8) (1480,88.6) (1560,89.0) (1620,88.9) (1720,89.1) (1800,89.0) (1900,89.4) (2050,89.3) (2150,89.5) (2300,89.6) (2450,89.7) (2600,89.8) (2700,89.6) (2900,90.0) (3100,90.0) (3250,90.2) (3400,90.3) (3550,90.4) (3640,90.3)};
\end{axis}

\begin{axis}[cpanel, Gax, noy, void, at={(175.5pt,-621pt)}]
\addplot[dense] coordinates {(0.2,91.85) (0.4,91.85) (0.4,89.7) (0.37,89.6) (0.34,89.5) (0.3,89.3) (0.27,89.2) (0.24,89.0) (0.22,88.8) (0.2,88.5)} --cycle;
\addplot[dots] coordinates {(0.205,84.8) (0.215,84.8) (0.225,84.2) (0.232,84.8) (0.236,84.2) (0.26,85.8) (0.21,86.4) (0.22,87.0) (0.235,86.6) (0.245,87.5) (0.255,88.0) (0.27,88.4) (0.29,88.5) (0.31,88.6) (0.33,88.8) (0.35,88.5) (0.37,89.0) (0.39,88.9) (0.2,87.6) (0.205,88.0) (0.215,87.8) (0.225,87.3)};
\addplot[dots] coordinates {(0.2,88.2) (0.207,88.5) (0.212,88.3) (0.22,88.5) (0.228,88.2) (0.236,88.7) (0.244,88.6) (0.252,88.9) (0.26,88.7) (0.268,89.0) (0.276,88.9) (0.284,89.0) (0.292,89.1) (0.3,88.9) (0.308,89.1) (0.316,89.2) (0.324,89.0) (0.332,89.3) (0.34,89.2) (0.348,89.3) (0.356,89.2) (0.364,89.4) (0.372,89.3) (0.38,89.4) (0.388,89.3) (0.396,89.5) (0.4,89.2)};
\end{axis}

\begin{axis}[cpanel, Gax, noy, seep, at={(309.65pt,-621pt)}]
\addplot[dense] coordinates {(7.2,90.77) (8.3,91.15) (10.5,91.33) (14.85,91.54) (23.6,91.67) (34.5,91.74) (45.4,91.8) (72,91.85) (72,91.0) (67.3,90.77) (56.4,90.51) (45.4,90.26) (34.5,89.87) (23.6,89.36) (18.1,89.1) (12.66,88.46) (9.5,87.9) (7.2,87.56)} --cycle;
\addplot[dots] coordinates {(7.75,84.18) (8.07,84.87) (8.6,84.87) (11.2,84.87) (14.1,84.87) (7.96,85.51) (9.4,86.03) (7.75,86.92) (8.3,87.18) (10.3,87.0) (12.1,87.38) (14.3,87.5) (16.7,87.74) (17.6,86.8) (18.5,86.36) (21.1,86.85) (16.8,87.82) (23.6,87.95) (24.1,87.87) (25.6,88.33) (28.2,88.67) (26.9,89.1) (35.1,88.26) (39.3,89.28) (44.7,89.31) (50.9,89.82) (52.6,89.62) (55.6,89.95) (68.0,90.0) (71.7,90.18) (12.7,88.46) (10.8,87.95) (15.2,87.95) (11.6,89.0) (19,89.23) (30,89.23) (36.5,89.62) (47.4,90.0) (61.8,90.26)};
\addplot[dots] coordinates {(7.3,87.2) (7.6,87.0) (8.0,87.5) (9.0,87.6) (10.0,87.9) (11.0,88.1) (12.0,88.2) (13.5,88.5) (15,88.7) (16.5,88.9) (18,88.8) (20,89.0) (22,89.1) (25,89.1) (28,89.3) (31,89.5) (33,89.4) (37,89.7) (40,89.75) (43,89.8) (46,90.0) (50,90.1) (54,90.2) (58,90.3) (62,90.45) (66,90.5) (70,90.65)};
\end{axis}
\end{tikzpicture}
\end{document}
